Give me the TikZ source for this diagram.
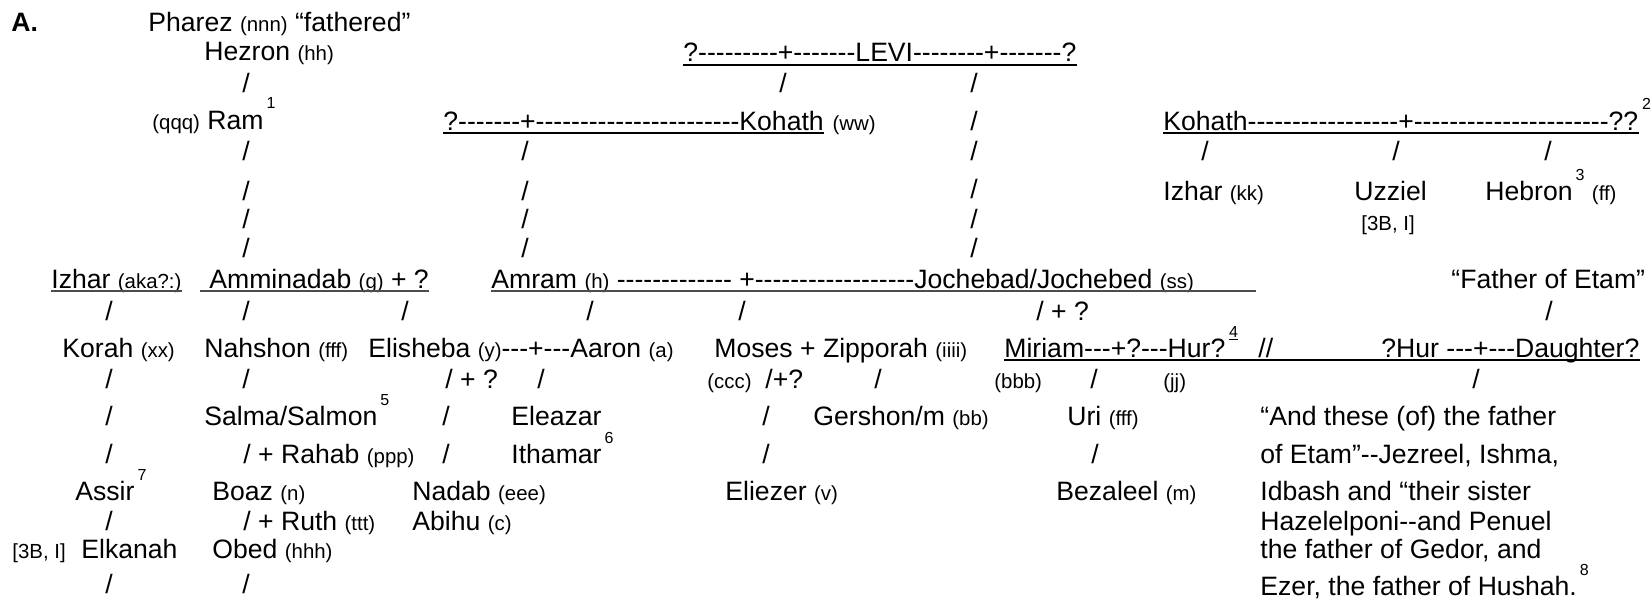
\documentclass[tikz,border=0pt]{standalone}
\usepackage{fontspec}
\setmainfont{Liberation Sans}[Ligatures=TeXOff]
\newcommand{\pn}[1]{{\fontsize{10.2}{12}\selectfont #1}}
\newcommand{\fnum}[1]{\hspace{1.5pt}\raisebox{10pt}{\fontsize{8}{9}\selectfont #1}}

\begin{document}
\begin{tikzpicture}[x=0.5pt,y=-0.5pt,
  uline/.style={black,line width=0.6pt},
  gline/.style={black!70,line width=1pt},
  sl/.style={anchor=base}]
  \tikzstyle{every node}+=[inner sep=0pt,anchor=base west,font=\fontsize{13.3}{15}\selectfont]
  \useasboundingbox (0,0) rectangle (1652,599);
  % top rows
  \node (lblA) at (11,32) {\textbf{A.}};
  \node (pharez) at (148,32) {Pharez \pn{(nnn)} “fathered”};
  \node (hezron) at (204,61) {Hezron \pn{(hh)}};
  \node (levi) at (683,62) {?---------+-------LEVI--------+-------?};
  \draw [uline] ([yshift=-1.5pt]levi.base west) -- ([yshift=-1.5pt]levi.base east);
  \node [sl] (h1) at (246,93) {/};
  \node [sl] (lv1) at (783,93) {/};
  \node [sl] (lv2) at (974,93) {/};
  \node (ram) at (152,129) {\pn{(qqq)} Ram\fnum{1}};
  \node (kohA) at (443,130) {?-------+-----------------------Kohath};
  \draw [uline] ([yshift=-1.5pt]kohA.base west) -- ([yshift=-1.5pt]kohA.base east);
  \node (ww) at ([xshift=4pt]kohA.base east) {\pn{(ww)}};
  \node [sl] (lv3) at (974,130) {/};
  \node (kohB) at (1163,130) {Kohath-----------------+----------------------??};
  \draw [uline] ([yshift=-1.5pt]kohB.base west) -- ([yshift=-1.5pt]kohB.base east);
  \node (fn2) at (kohB.base east) {\fnum{2}};
  % descent lines
  \node [sl] (r1) at (246,160) {/};
  \node [sl] (k1) at (525,160) {/};
  \node [sl] (lv4) at (974,160) {/};
  \node [sl] (kb1) at (1205,160) {/};
  \node [sl] (kb2) at (1396,160) {/};
  \node [sl] (kb3) at (1548,160) {/};
  \node [sl] (r2) at (246,200) {/};
  \node [sl] (k2) at (525,200) {/};
  \node [sl] (lv5) at (974,198) {/};
  \node (izharK) at (1163,200) {Izhar \pn{(kk)}};
  \node (uzziel) at (1354,200) {Uzziel};
  \node (hebron) at (1485,200) {Hebron\fnum{3} \pn{(ff)}};
  \node [sl] (r3) at (246,228) {/};
  \node [sl] (k3) at (525,228) {/};
  \node [sl] (lv6) at (974,228) {/};
  \node (uzref) at (1361,230) {\pn{[3B, I]}};
  \node [sl] (r4) at (246,257) {/};
  \node [sl] (k4) at (525,257) {/};
  \node [sl] (lv7) at (974,257) {/};
  % Amram row
  \node (izharA) at (51,288) {Izhar \pn{(aka?:)}};
  \draw [gline] ([yshift=-1.5pt]izharA.base west) -- ([yshift=-1.5pt]izharA.base east);
  \coordinate (amminStart) at (200,288);
  \node (ammin) at (209,288) {Amminadab \pn{(g)} + ?};
  \draw [gline] ([yshift=-1.5pt]amminStart) -- ([yshift=-1.5pt]ammin.base east);
  \node (amram) at (491,288) {Amram \pn{(h)} ------------- +------------------Jochebad/Jochebed \pn{(ss)}};
  \coordinate (amramEnd) at (1256,288);
  \draw [gline] ([yshift=-1.5pt]amram.base west) -- ([yshift=-1.5pt]amramEnd);
  \node (fatherEtam) at (1451,288) {“Father of Etam”};
  \node [sl] (iz1) at (109,320) {/};
  \node [sl] (am1) at (246,320) {/};
  \node [sl] (am2) at (405,320) {/};
  \node [sl] (aa1) at (590,320) {/};
  \node [sl] (aa2) at (742,320) {/};
  \node (jo1) at (1036,320) {/ + ?};
  \node [sl] (fe1) at (1549,320) {/};
  % children
  \node (korah) at (62,357) {Korah \pn{(xx)}};
  \node (nahshon) at (204,357) {Nahshon \pn{(fff)}};
  \node (elisheba) at (368,357) {Elisheba \pn{(y)}---+---Aaron \pn{(a)}};
  \node (moses) at (714,357) {Moses + Zipporah \pn{(iiii)}};
  \node (miriam) at (1004,357) {Miriam---+?---Hur?};
  \node (fn4) at (miriam.base east) {\fnum{\underline{4}}};
  \node (dsl) at (1258,357) {//};
  \node (daughter) at (1381,357) {?Hur ---+---Daughter?};
  \draw [uline] ([yshift=-1.5pt]miriam.base west) -- ([yshift=-1.5pt]daughter.base east);
  \node [sl] (ko1) at (109,388) {/};
  \node [sl] (na1) at (246,388) {/};
  \node (el1) at (445,388) {/ + ?};
  \node [sl] (el2) at (541,388) {/};
  \node (ccc) at (707,388) {\pn{(ccc)}};
  \node (mo1) at (765,388) {/+?};
  \node [sl] (mo2) at (878,388) {/};
  \node (bbb) at (994,388) {\pn{(bbb)}};
  \node [sl] (mi1) at (1094,388) {/};
  \node (jj) at (1163,388) {\pn{(jj)}};
  \node [sl] (hu1) at (1476,388) {/};
  \node [sl] (ko2) at (109,425) {/};
  \node (salma) at (204,425) {Salma/Salmon\fnum{5}};
  \node [sl] (el3) at (446,425) {/};
  \node (eleazar) at (511,425) {Eleazar};
  \node [sl] (mo3) at (766,425) {/};
  \node (gershon) at (813,425) {Gershon/m \pn{(bb)}};
  \node (uri) at (1067,425) {Uri \pn{(fff)}};
  \node (tx1) at (1260,425) {“And these (of) the father};
  \node [sl] (ko3) at (109,463) {/};
  \node (rahab) at (243,463) {/ + Rahab \pn{(ppp)}};
  \node [sl] (el4) at (446,463) {/};
  \node (ithamar) at (511,463) {Ithamar\fnum{6}};
  \node [sl] (mo4) at (766,463) {/};
  \node [sl] (ur1) at (1095,463) {/};
  \node (tx2) at (1260,463) {of Etam”--Jezreel, Ishma,};
  \node (assir) at (75,500) {Assir\fnum{7}};
  \node (boaz) at (212,500) {Boaz \pn{(n)}};
  \node (nadab) at (412,500) {Nadab \pn{(eee)}};
  \node (eliezer) at (725,500) {Eliezer \pn{(v)}};
  \node (bezaleel) at (1056,500) {Bezaleel \pn{(m)}};
  \node (tx3) at (1260,500) {Idbash and “their sister};
  \node [sl] (as1) at (109,530) {/};
  \node (ruth) at (243,530) {/ + Ruth \pn{(ttt)}};
  \node (abihu) at (412,530) {Abihu \pn{(c)}};
  \node (tx4) at (1260,530) {Hazelelponi--and Penuel};
  \node (elref) at (12,558) {\pn{[3B, I]}};
  \node (elkanah) at (81,558) {Elkanah};
  \node (obed) at (212,558) {Obed \pn{(hhh)}};
  \node (tx5) at (1260,558) {the father of Gedor, and};
  \node [sl] (ek1) at (109,593) {/};
  \node [sl] (ob1) at (246,593) {/};
  \node (tx6) at (1260,595) {Ezer, the father of Hushah.\fnum{8}};
\end{tikzpicture}
\end{document}
